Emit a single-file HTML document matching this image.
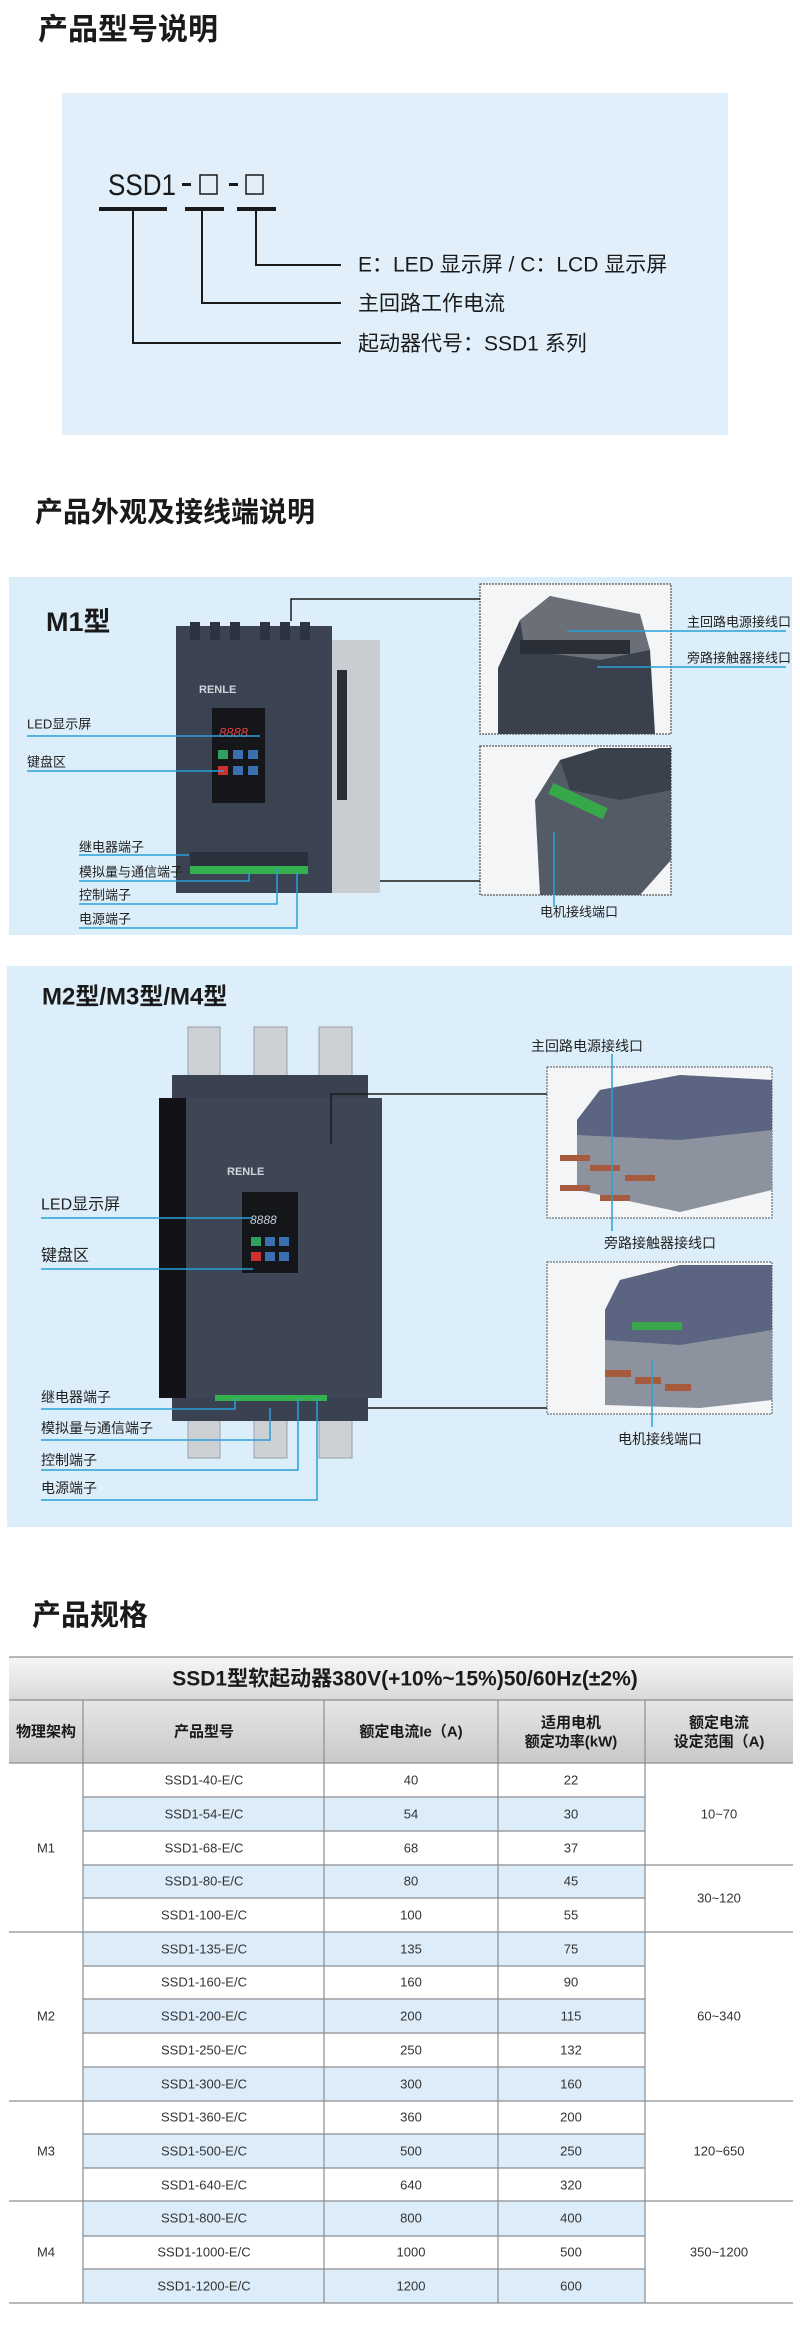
<!DOCTYPE html>
<html><head><meta charset="utf-8"><style>
html,body{margin:0;padding:0;background:#fff;}
svg{display:block;font-family:"Liberation Sans","Noto Sans CJK SC",sans-serif;}
</style></head><body>
<svg width="800" height="2341" viewBox="0 0 800 2341" xmlns="http://www.w3.org/2000/svg">
<defs>
<linearGradient id="gt" x1="0" y1="0" x2="0" y2="1"><stop offset="0" stop-color="#f6f6f6"/><stop offset="1" stop-color="#d9d9d9"/></linearGradient>
<linearGradient id="gh" x1="0" y1="0" x2="0" y2="1"><stop offset="0" stop-color="#e6e6e6"/><stop offset="1" stop-color="#c9c9c9"/></linearGradient>
</defs>
<g font-weight="bold" fill="#1a1a1a">
<text x="38" y="30" font-size="30" dominant-baseline="central">产品型号说明</text>
<text x="35" y="512" font-size="28" dominant-baseline="central">产品外观及接线端说明</text>
<text x="32" y="1616" font-size="29" dominant-baseline="central">产品规格</text>
</g>
<!-- section 1 -->
<rect x="62" y="93" width="666" height="342" fill="#e0eff9"/>
<text x="108" y="195" font-size="30" fill="#1a1a1a" textLength="68" lengthAdjust="spacingAndGlyphs">SSD1</text>
<rect x="182" y="183" width="9" height="3" fill="#1a1a1a"/>
<rect x="200" y="175" width="17" height="19" fill="none" stroke="#1a1a1a" stroke-width="1.5"/>
<rect x="229" y="183" width="9" height="3" fill="#1a1a1a"/>
<rect x="246" y="175" width="17" height="19" fill="none" stroke="#1a1a1a" stroke-width="1.5"/>
<g fill="#1a1a1a"><rect x="99" y="207" width="68" height="4"/><rect x="185" y="207" width="39" height="4"/><rect x="237" y="207" width="39" height="4"/></g>
<g stroke="#1a1a1a" stroke-width="2" fill="none">
<polyline points="133,210 133,343 341,343"/><polyline points="202,210 202,303 341,303"/><polyline points="256,210 256,265 341,265"/>
</g>
<g font-size="21" fill="#1a1a1a">
<text x="358" y="265" dominant-baseline="central">E：LED 显示屏 / C：LCD 显示屏</text>
<text x="358" y="304" dominant-baseline="central">主回路工作电流</text>
<text x="358" y="344" dominant-baseline="central">起动器代号：SSD1 系列</text>
</g>
<!-- M1 panel -->
<rect x="9" y="577" width="783" height="358" fill="#dceefa"/>
<text x="46" y="622" font-size="27" font-weight="bold" fill="#1a1a1a" dominant-baseline="central">M1型</text>
<rect x="176" y="640" width="204" height="253" fill="#eef0f2"/>
<rect x="332" y="640" width="48" height="253" fill="#c9cdd2"/>
<rect x="337" y="670" width="10" height="130" fill="#2a2e36"/>
<rect x="176" y="626" width="156" height="267" fill="#3b4352"/>
<g fill="#2d3340"><rect x="190" y="622" width="10" height="18"/><rect x="210" y="622" width="10" height="18"/><rect x="230" y="622" width="10" height="18"/><rect x="260" y="622" width="10" height="18"/><rect x="280" y="622" width="10" height="18"/><rect x="300" y="622" width="10" height="18"/></g>
<text x="199" y="693" font-size="11" font-weight="bold" fill="#d0d4da">RENLE</text>
<rect x="212" y="708" width="53" height="95" fill="#14161a"/>
<text x="219" y="737" font-size="13" fill="#e04040" font-style="italic">8888</text>
<g><rect x="218" y="750" width="10" height="9" fill="#2fa060"/><rect x="233" y="750" width="10" height="9" fill="#3a70b0"/><rect x="248" y="750" width="10" height="9" fill="#3a70b0"/><rect x="218" y="766" width="10" height="9" fill="#d03030"/><rect x="233" y="766" width="10" height="9" fill="#3a70b0"/><rect x="248" y="766" width="10" height="9" fill="#3a70b0"/></g>
<rect x="190" y="866" width="118" height="8" fill="#35b050"/>
<rect x="190" y="852" width="118" height="14" fill="#2a303c"/>
<!-- M1 insets -->
<rect x="480" y="584" width="191" height="150" fill="#f4f5f6" stroke="#333" stroke-dasharray="2,1"/>
<polygon points="498,734 498,668 520,620 550,596 615,612 650,650 655,734" fill="#3a404c"/>
<polygon points="520,620 550,596 640,614 650,650 600,660 525,650" fill="#6a6f78"/>
<rect x="520" y="640" width="110" height="14" fill="#2a2e36"/>
<rect x="480" y="746" width="191" height="149" fill="#f4f5f6" stroke="#333" stroke-dasharray="2,1"/>
<polygon points="540,895 535,800 560,760 600,748 671,748 671,860 640,895" fill="#545a66"/>
<polygon points="560,760 600,748 671,748 671,790 620,800 570,790" fill="#3a404c"/>
<rect x="548" y="795" width="60" height="12" fill="#36a84a" transform="rotate(25 578 801)"/>
<g stroke="#2aa0d8" stroke-width="1.5" fill="none">
<line x1="27" y1="736" x2="260" y2="736"/><line x1="27" y1="771" x2="224" y2="771"/>
<line x1="79" y1="855" x2="189" y2="855"/>
<polyline points="79,881 249,881 249,873"/><polyline points="79,904 277,904 277,868"/><polyline points="79,928 297,928 297,872"/>
<line x1="567" y1="631" x2="786" y2="631"/><line x1="597" y1="667" x2="786" y2="667"/>
<line x1="554" y1="832" x2="554" y2="907"/>
</g>
<g stroke="#1a1a1a" stroke-width="1.5" fill="none"><polyline points="291,621 291,599 480,599"/><line x1="380" y1="881" x2="480" y2="881"/></g>
<g font-size="13" fill="#222">
<text x="27" y="724" dominant-baseline="central">LED显示屏</text>
<text x="27" y="762" dominant-baseline="central">键盘区</text>
<text x="79" y="847" dominant-baseline="central">继电器端子</text>
<text x="79" y="872" dominant-baseline="central">模拟量与通信端子</text>
<text x="79" y="895" dominant-baseline="central">控制端子</text>
<text x="79" y="919" dominant-baseline="central">电源端子</text>
<text x="687" y="622" dominant-baseline="central">主回路电源接线口</text>
<text x="687" y="658" dominant-baseline="central">旁路接触器接线口</text>
<text x="540" y="912" dominant-baseline="central">电机接线端口</text>
</g>
<!-- M2 panel -->
<rect x="7" y="966" width="785" height="561" fill="#dceefa"/>
<text x="42" y="997" font-size="24" font-weight="bold" fill="#1a1a1a" dominant-baseline="central">M2型/M3型/M4型</text>
<g fill="#cdd0d4" stroke="#9a9ea4"><rect x="188" y="1027" width="32" height="52"/><rect x="254" y="1027" width="33" height="52"/><rect x="319" y="1027" width="33" height="52"/>
<rect x="188" y="1418" width="32" height="40"/><rect x="254" y="1418" width="33" height="40"/><rect x="319" y="1418" width="33" height="40"/></g>
<rect x="172" y="1075" width="196" height="346" fill="#3a4150"/>
<rect x="159" y="1098" width="223" height="300" fill="#3e4656"/>
<rect x="159" y="1098" width="27" height="300" fill="#121316"/>
<text x="227" y="1175" font-size="11" font-weight="bold" fill="#d0d4da">RENLE</text>
<rect x="242" y="1192" width="56" height="81" fill="#14161a"/>
<text x="250" y="1224" font-size="12" fill="#c8d0e0" font-style="italic">8888</text>
<g><rect x="251" y="1237" width="10" height="9" fill="#2fa060"/><rect x="265" y="1237" width="10" height="9" fill="#3a70b0"/><rect x="279" y="1237" width="10" height="9" fill="#3a70b0"/><rect x="251" y="1252" width="10" height="9" fill="#d03030"/><rect x="265" y="1252" width="10" height="9" fill="#3a70b0"/><rect x="279" y="1252" width="10" height="9" fill="#3a70b0"/></g>
<rect x="215" y="1395" width="112" height="6" fill="#35b050"/>
<rect x="547" y="1067" width="225" height="151" fill="#f4f5f6" stroke="#555" stroke-dasharray="2,1"/>
<polygon points="577,1120 600,1090 680,1075 772,1080 772,1190 680,1212 577,1190" fill="#8d939e"/>
<polygon points="577,1120 600,1090 680,1075 772,1080 772,1130 680,1140 577,1135" fill="#5b6582"/>
<g fill="#a85a3e"><rect x="560" y="1155" width="30" height="6"/><rect x="590" y="1165" width="30" height="6"/><rect x="560" y="1185" width="30" height="6"/><rect x="600" y="1195" width="30" height="6"/><rect x="625" y="1175" width="30" height="6"/></g>
<rect x="547" y="1262" width="225" height="152" fill="#f4f5f6" stroke="#555" stroke-dasharray="2,1"/>
<polygon points="605,1310 620,1280 680,1265 772,1265 772,1400 700,1408 605,1405" fill="#8d939e"/>
<polygon points="605,1310 620,1280 680,1265 772,1265 772,1330 680,1345 605,1340" fill="#5b6582"/>
<rect x="632" y="1322" width="50" height="8" fill="#3aa84a"/>
<g fill="#a85a3e"><rect x="605" y="1370" width="26" height="7"/><rect x="635" y="1377" width="26" height="7"/><rect x="665" y="1384" width="26" height="7"/></g>
<g stroke="#2aa0d8" stroke-width="1.5" fill="none">
<line x1="41" y1="1218" x2="253" y2="1218"/><line x1="41" y1="1269" x2="253" y2="1269"/>
<polyline points="41,1409 235,1409 235,1398"/><polyline points="41,1440 270,1440 270,1408"/><polyline points="41,1470 298,1470 298,1398"/><polyline points="41,1500 317,1500 317,1398"/>
<line x1="612" y1="1054" x2="612" y2="1231"/><line x1="652" y1="1361" x2="652" y2="1427"/>
</g>
<g stroke="#1a1a1a" stroke-width="1.5" fill="none"><polyline points="331,1144 331,1094 547,1094"/><line x1="368" y1="1408" x2="547" y2="1408"/></g>
<g font-size="16" fill="#222">
<text x="41" y="1205" dominant-baseline="central">LED显示屏</text>
<text x="41" y="1256" dominant-baseline="central">键盘区</text>
<text x="41" y="1397" font-size="14" dominant-baseline="central">继电器端子</text>
<text x="41" y="1428" font-size="14" dominant-baseline="central">模拟量与通信端子</text>
<text x="41" y="1460" font-size="14" dominant-baseline="central">控制端子</text>
<text x="41" y="1488" font-size="14" dominant-baseline="central">电源端子</text>
<text x="531" y="1046" font-size="14" dominant-baseline="central">主回路电源接线口</text>
<text x="604" y="1243" font-size="14" dominant-baseline="central">旁路接触器接线口</text>
<text x="618" y="1439" font-size="14" dominant-baseline="central">电机接线端口</text>
</g>
<!-- table -->
<rect x="9" y="1657" width="784" height="43" fill="url(#gt)"/>
<rect x="9" y="1700" width="784" height="63" fill="url(#gh)"/>
<text x="405" y="1679" font-size="21" font-weight="bold" fill="#1a1a1a" text-anchor="middle" dominant-baseline="central">SSD1型软起动器380V(+10%~15%)50/60Hz(±2%)</text>
<g font-size="15" font-weight="bold" fill="#1a1a1a" text-anchor="middle">
<text x="46" y="1732" dominant-baseline="central">物理架构</text>
<text x="204" y="1732" dominant-baseline="central">产品型号</text>
<text x="411" y="1732" dominant-baseline="central">额定电流Ie（A)</text>
<text x="571" y="1723" dominant-baseline="central">适用电机</text>
<text x="571" y="1742" dominant-baseline="central">额定功率(kW)</text>
<text x="719" y="1723" dominant-baseline="central">额定电流</text>
<text x="719" y="1742" dominant-baseline="central">设定范围（A)</text>
</g>
<g fill="#dcecf8">
<rect x="83" y="1797" width="562" height="34"/><rect x="83" y="1865" width="562" height="33"/><rect x="83" y="1932" width="562" height="34"/>
<rect x="83" y="1999" width="562" height="34"/><rect x="83" y="2067" width="562" height="34"/><rect x="83" y="2134" width="562" height="34"/>
<rect x="83" y="2201" width="562" height="35"/><rect x="83" y="2269" width="562" height="34"/>
</g>
<g stroke="#8a8e92" stroke-width="1.2" fill="none">
<line x1="9" y1="1657" x2="793" y2="1657"/><line x1="9" y1="1700" x2="793" y2="1700"/><line x1="9" y1="1763" x2="793" y2="1763"/>
<line x1="83" y1="1700" x2="83" y2="2303"/><line x1="324" y1="1700" x2="324" y2="2303"/><line x1="498" y1="1700" x2="498" y2="2303"/><line x1="645" y1="1700" x2="645" y2="2303"/>
<line x1="83" y1="1797" x2="645" y2="1797"/><line x1="83" y1="1831" x2="645" y2="1831"/><line x1="83" y1="1865" x2="793" y2="1865"/><line x1="83" y1="1898" x2="645" y2="1898"/>
<line x1="9" y1="1932" x2="793" y2="1932"/>
<line x1="83" y1="1966" x2="645" y2="1966"/><line x1="83" y1="1999" x2="645" y2="1999"/><line x1="83" y1="2033" x2="645" y2="2033"/><line x1="83" y1="2067" x2="645" y2="2067"/>
<line x1="9" y1="2101" x2="793" y2="2101"/>
<line x1="83" y1="2134" x2="645" y2="2134"/><line x1="83" y1="2168" x2="645" y2="2168"/>
<line x1="9" y1="2201" x2="793" y2="2201"/>
<line x1="83" y1="2236" x2="645" y2="2236"/><line x1="83" y1="2269" x2="645" y2="2269"/>
<line x1="9" y1="2303" x2="793" y2="2303"/>
</g>
<g font-size="13" fill="#333" text-anchor="middle">
<text x="204" y="1780" dominant-baseline="central">SSD1-40-E/C</text><text x="411" y="1780" dominant-baseline="central">40</text><text x="571" y="1780" dominant-baseline="central">22</text>
<text x="204" y="1814" dominant-baseline="central">SSD1-54-E/C</text><text x="411" y="1814" dominant-baseline="central">54</text><text x="571" y="1814" dominant-baseline="central">30</text>
<text x="204" y="1848" dominant-baseline="central">SSD1-68-E/C</text><text x="411" y="1848" dominant-baseline="central">68</text><text x="571" y="1848" dominant-baseline="central">37</text>
<text x="204" y="1881" dominant-baseline="central">SSD1-80-E/C</text><text x="411" y="1881" dominant-baseline="central">80</text><text x="571" y="1881" dominant-baseline="central">45</text>
<text x="204" y="1915" dominant-baseline="central">SSD1-100-E/C</text><text x="411" y="1915" dominant-baseline="central">100</text><text x="571" y="1915" dominant-baseline="central">55</text>
<text x="204" y="1949" dominant-baseline="central">SSD1-135-E/C</text><text x="411" y="1949" dominant-baseline="central">135</text><text x="571" y="1949" dominant-baseline="central">75</text>
<text x="204" y="1982" dominant-baseline="central">SSD1-160-E/C</text><text x="411" y="1982" dominant-baseline="central">160</text><text x="571" y="1982" dominant-baseline="central">90</text>
<text x="204" y="2016" dominant-baseline="central">SSD1-200-E/C</text><text x="411" y="2016" dominant-baseline="central">200</text><text x="571" y="2016" dominant-baseline="central">115</text>
<text x="204" y="2050" dominant-baseline="central">SSD1-250-E/C</text><text x="411" y="2050" dominant-baseline="central">250</text><text x="571" y="2050" dominant-baseline="central">132</text>
<text x="204" y="2084" dominant-baseline="central">SSD1-300-E/C</text><text x="411" y="2084" dominant-baseline="central">300</text><text x="571" y="2084" dominant-baseline="central">160</text>
<text x="204" y="2117" dominant-baseline="central">SSD1-360-E/C</text><text x="411" y="2117" dominant-baseline="central">360</text><text x="571" y="2117" dominant-baseline="central">200</text>
<text x="204" y="2151" dominant-baseline="central">SSD1-500-E/C</text><text x="411" y="2151" dominant-baseline="central">500</text><text x="571" y="2151" dominant-baseline="central">250</text>
<text x="204" y="2185" dominant-baseline="central">SSD1-640-E/C</text><text x="411" y="2185" dominant-baseline="central">640</text><text x="571" y="2185" dominant-baseline="central">320</text>
<text x="204" y="2218" dominant-baseline="central">SSD1-800-E/C</text><text x="411" y="2218" dominant-baseline="central">800</text><text x="571" y="2218" dominant-baseline="central">400</text>
<text x="204" y="2252" dominant-baseline="central">SSD1-1000-E/C</text><text x="411" y="2252" dominant-baseline="central">1000</text><text x="571" y="2252" dominant-baseline="central">500</text>
<text x="204" y="2286" dominant-baseline="central">SSD1-1200-E/C</text><text x="411" y="2286" dominant-baseline="central">1200</text><text x="571" y="2286" dominant-baseline="central">600</text>
<text x="46" y="1848" dominant-baseline="central">M1</text>
<text x="46" y="2016" dominant-baseline="central">M2</text>
<text x="46" y="2151" dominant-baseline="central">M3</text>
<text x="46" y="2252" dominant-baseline="central">M4</text>
<text x="719" y="1814" dominant-baseline="central">10~70</text>
<text x="719" y="1898" dominant-baseline="central">30~120</text>
<text x="719" y="2016" dominant-baseline="central">60~340</text>
<text x="719" y="2151" dominant-baseline="central">120~650</text>
<text x="719" y="2252" dominant-baseline="central">350~1200</text>
</g>
</svg>
</body></html>
